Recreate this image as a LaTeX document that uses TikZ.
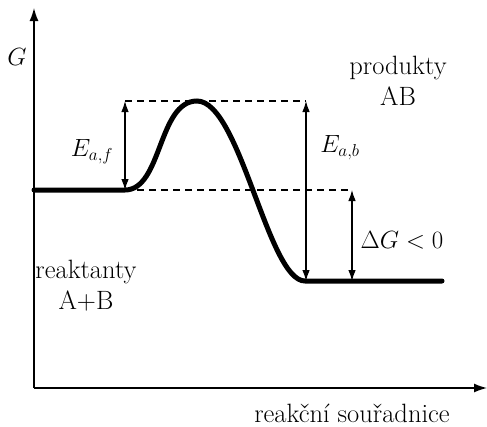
\documentclass[tikz,border=0pt]{standalone}
\usetikzlibrary{arrows.meta}
\begin{document}
\begin{tikzpicture}[x=1pt,y=-1pt,
  ax/.style={line width=1.4pt,-{Latex[length=13pt,width=9pt]}},
  dim/.style={line width=1.1pt,{Latex[length=11pt,width=7.5pt]}-{Latex[length=11pt,width=7.5pt]}},
  dsh/.style={line width=1.1pt,dash pattern=on 7pt off 5pt},
  curve/.style={line width=5pt,line cap=round},
  lbl/.style={font=\fontsize{26.5}{31}\selectfont,inner sep=0pt,align=center}]
\useasboundingbox (0,0) rectangle (487,426);
\coordinate (O) at (34,388);
\coordinate (ytop) at (34,8);
\coordinate (xend) at (487,388);
\coordinate (r0) at (34,190);
\coordinate (r1) at (125,190);
\coordinate (pk) at (197,101);
\coordinate (p0) at (305,281);
\coordinate (p1) at (442,281);
\coordinate (tf) at (125,101);
\coordinate (tb) at (306,101);
\coordinate (bb) at (306,281);
\coordinate (gd) at (352,190);
\coordinate (gb) at (352,281);
\draw[ax] (O) -- (ytop);
\draw[ax] (O) -- (xend);
\draw[dsh] (tf) -- (tb);
\draw[dsh] (r1) -- (gd);
\draw[dim] (r1) -- (tf);
\draw[dim] (tb) -- (bb);
\draw[dim] (gd) -- (gb);
\draw[curve] (r0) -- (r1) .. controls (162,190) and (158,101) .. (pk)
  .. controls (240,101) and (268,281) .. (p0) -- (p1);
\node[lbl] (g) at (17,57) {$G$};
\node[lbl] (eaf) at (92,152) {$E_{a,f}$};
\node[lbl] (eab) at (340,148) {$E_{a,b}$};
\node[lbl] (dg) at (402,240) {$\Delta G<0$};
\node[lbl] (prod) at (398,81) {produkty\\AB};
\node[lbl] (reak) at (86,286) {reaktanty\\A+B};
\node[lbl] (xl) at (352,413) {reakční souřadnice};
\end{tikzpicture}
\end{document}
